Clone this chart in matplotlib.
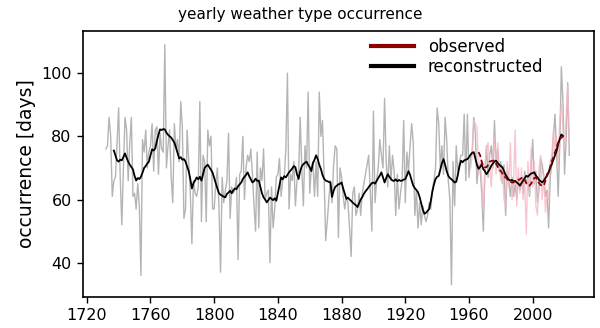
import numpy as np
import matplotlib
matplotlib.use('Agg')
import matplotlib.pyplot as plt

# reconstructed yearly occurrence, 1732-2023
rec_years = np.arange(1732, 2024)
rec_days = [
    76, 77, 86, 80, 61, 66, 67, 78,
    89, 67, 52, 70, 86, 82, 66, 78, 86, 61,
    62, 57, 65, 58, 36, 79, 75, 82, 70, 75,
    77, 84, 69, 82, 83, 68, 81, 76, 75, 109,
    70, 77, 82, 67, 59, 84, 76, 79, 72, 91,
    83, 54, 57, 82, 72, 62, 46, 66, 62, 61,
    64, 91, 53, 74, 72, 53, 82, 77, 80, 57,
    57, 65, 70, 58, 37, 67, 59, 63, 66, 81,
    54, 64, 62, 63, 67, 41, 68, 69, 80, 60,
    70, 74, 72, 76, 68, 58, 50, 75, 51, 70,
    66, 76, 60, 62, 63, 40, 64, 51, 57, 67,
    68, 73, 61, 66, 67, 76, 100, 57, 68, 66,
    72, 58, 66, 68, 86, 70, 58, 77, 70, 94,
    62, 70, 72, 61, 72, 61, 94, 80, 85, 68,
    47, 53, 60, 66, 59, 71, 77, 76, 48, 70,
    67, 61, 57, 61, 59, 51, 42, 62, 64, 55,
    57, 62, 55, 62, 65, 68, 71, 74, 63, 50,
    88, 59, 66, 70, 79, 74, 70, 92, 72, 64,
    77, 66, 74, 69, 55, 68, 57, 62, 66, 85,
    59, 75, 69, 77, 84, 78, 55, 63, 51, 59,
    52, 58, 55, 53, 55, 59, 57, 63, 66, 70,
    89, 84, 70, 77, 68, 86, 79, 66, 60, 33,
    72, 58, 77, 68, 72, 74, 74, 87, 66, 87,
    67, 73, 75, 86, 81, 65, 71, 70, 62, 50,
    69, 77, 67, 74, 77, 70, 85, 71, 76, 69,
    72, 65, 71, 55, 69, 66, 61, 67, 61, 65,
    60, 67, 63, 66, 62, 69, 65, 67, 61, 70,
    79, 65, 69, 59, 63, 73, 71, 67, 61, 63,
    51, 67, 71, 80, 87, 75, 61, 77, 102, 91,
    68, 79, 97, 74,
]

# observed yearly occurrence, 1961-2023
obs_years = np.arange(1961, 2024)
obs_days = [
    70, 74, 85, 84, 83, 68, 72, 66, 56,
    70, 76, 78, 70, 64, 74, 80, 68, 78, 70,
    66, 70, 60, 58, 72, 64, 78, 60, 66, 82,
    58, 70, 62, 70, 60, 66, 49, 72, 62, 76,
    64, 72, 58, 55, 70, 74, 60, 68, 56, 62,
    60, 72, 74, 82, 76, 80, 70, 85, 90, 82,
    76, 86, 96, 78,
]

# smoothed reconstruction, 1737-2019
rec_smooth_years = np.arange(1737, 2020)
rec_smooth = [
    75.5, 74.0, 72.4,
    72.0, 72.6, 72.4, 73.5, 74.6, 73.2, 72.0, 71.0, 70.3, 69.5,
    67.5, 66.0, 66.8, 66.5, 67.2, 68.5, 70.0, 70.6, 71.4, 72.0,
    74.0, 75.9, 75.5, 76.2, 78.5, 80.5, 82.2, 82.0, 82.3, 82.2,
    81.2, 80.5, 80.0, 79.6, 78.8, 78.0, 76.5, 74.8, 73.0, 73.4,
    72.6, 72.8, 72.0, 70.5, 69.0, 66.5, 63.5, 65.2, 66.0, 67.0,
    66.4, 67.2, 66.0, 68.0, 70.0, 70.6, 71.0, 70.2, 69.4, 68.5,
    66.8, 65.0, 63.5, 62.0, 61.5, 61.2, 60.9, 60.7, 61.8, 62.2,
    62.8, 62.0, 62.9, 63.5, 63.3, 64.2, 64.8, 65.4, 66.5, 67.2,
    67.8, 68.6, 67.4, 66.4, 65.4, 65.8, 66.6, 65.9, 66.0, 64.0,
    62.0, 60.7, 60.0, 59.1, 59.8, 60.6, 60.2, 59.8, 60.4, 59.6,
    62.0, 64.5, 67.0, 66.4, 67.4, 67.0, 67.8, 68.6, 69.2, 69.8,
    70.6, 70.2, 68.0, 66.5, 69.0, 70.5, 71.2, 71.6, 72.0, 71.0,
    70.2, 69.0, 71.5, 72.6, 74.0, 72.8, 71.0, 69.7, 67.8, 66.6,
    66.0, 65.8, 65.6, 65.4, 60.8, 62.8, 64.0, 64.4, 64.8, 65.0,
    65.4, 63.5, 61.8, 60.2, 60.6, 60.0, 59.6, 59.0, 58.6, 58.2,
    57.6, 58.8, 60.0, 60.8, 61.8, 62.6, 63.2, 63.9, 64.6, 65.2,
    65.4, 65.0, 65.9, 66.8, 67.6, 68.6, 67.0, 65.4, 66.8, 68.0,
    67.2, 66.5, 66.0, 65.9, 66.4, 65.8, 66.2, 65.9, 66.0, 66.3,
    66.5, 67.6, 69.0, 67.8, 66.0, 64.4, 63.6, 63.0, 62.3, 60.8,
    58.8, 56.8, 55.5, 55.8, 56.4, 57.0, 59.5, 62.5, 64.8, 66.5,
    67.2, 67.5, 69.5, 71.5, 72.8, 71.0, 69.0, 67.5, 66.8, 66.4,
    65.9, 65.4, 65.6, 67.8, 70.5, 72.3, 71.8, 72.4, 72.6, 72.8,
    73.4, 74.2, 74.8, 75.0, 73.0, 71.0, 69.7, 70.3, 71.2, 69.6,
    69.0, 68.0, 68.8, 69.6, 70.7, 71.4, 72.0, 72.3, 71.6, 71.0,
    70.6, 70.2, 69.0, 67.8, 67.0, 66.3, 66.0, 66.2, 65.8, 65.9,
    65.4, 65.0, 64.4, 65.2, 66.0, 66.8, 67.5, 67.2, 67.8, 68.2,
    68.4, 68.6, 67.6, 67.0, 66.2, 65.8, 65.4, 66.0, 66.8, 67.5,
    68.6, 70.0, 71.2, 72.6, 74.0, 75.4, 77.5, 79.2, 80.6, 80.1,
]

# smoothed observations, 1966-2019
obs_smooth_years = np.arange(1966, 2020)
obs_smooth = [
    75.0, 74.0, 72.0, 70.5,
    70.2, 70.2, 71.0, 72.0, 72.2, 72.3, 72.3, 71.4, 70.4, 69.4,
    69.0, 68.2, 67.4, 67.0, 66.4, 66.0, 65.6, 65.4, 65.4, 65.8,
    66.0, 66.2, 66.4, 66.8, 67.0, 66.2, 65.2, 64.6, 64.4, 65.0,
    66.0, 66.8, 67.0, 66.2, 65.2, 64.6, 64.4, 64.4, 66.0, 68.0,
    68.6, 70.4, 72.2, 73.3, 75.0, 76.6, 78.0, 79.0, 79.6, 79.8,
]

fig = plt.figure(figsize=(6, 3.28), dpi=100)
ax = fig.add_axes([0.138, 0.095, 0.852, 0.812])

ax.plot(rec_years, rec_days, color='#b4b4b4', lw=1.0)
ax.plot(obs_years, obs_days, color='#f7b8c4', lw=1.0, alpha=0.8)
ax.plot(rec_smooth_years, rec_smooth, color='black', lw=1.3)
ax.plot(obs_smooth_years, obs_smooth, color='darkred', lw=1.3, ls=(0, (3, 1.5)))

# legend handles are drawn solid and thick
h_obs, = ax.plot([], [], color='darkred', lw=3, label='observed')
h_rec, = ax.plot([], [], color='black', lw=3, label='reconstructed')
ax.legend(handles=[h_obs, h_rec], loc='upper right', bbox_to_anchor=(0.93, 1.03),
          frameon=False, fontsize=12, handlelength=2.6, labelspacing=0.15,
          handletextpad=0.8)

ax.set_xlim(1717.5, 2038.5)
ax.set_ylim(29.2, 113.5)
ax.set_xticks(np.arange(1720, 2001, 40))
ax.set_yticks([40, 60, 80, 100])
ax.tick_params(labelsize=11.5, length=4.5, width=1)
for s in ax.spines.values():
    s.set_linewidth(1.2)

ax.set_ylabel('occurrence [days]', fontsize=13.5)
fig.suptitle('yearly weather type occurrence', fontsize=11, y=0.98)

fig.savefig('out.png', dpi=100)
